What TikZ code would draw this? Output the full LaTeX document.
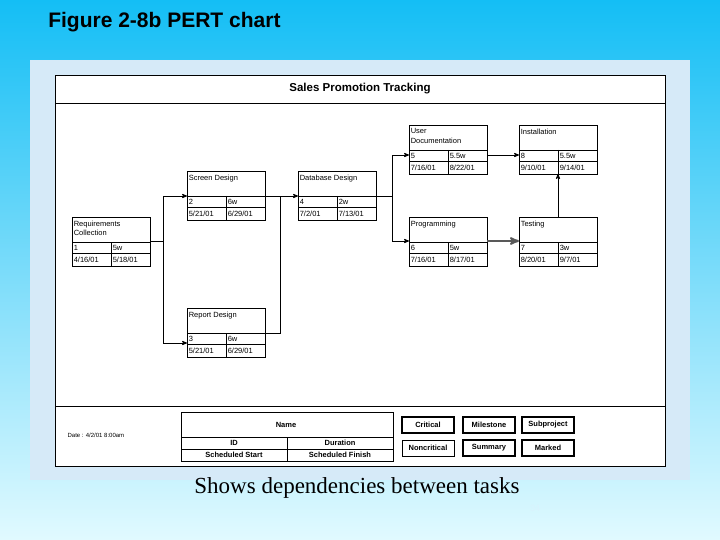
\documentclass[tikz,border=0pt]{standalone}
\usepackage{fontspec}
\setsansfont{Liberation Sans}
\setmainfont{Liberation Serif}
\usetikzlibrary{arrows,positioning,calc}
\definecolor{skytop}{RGB}{20,190,245}
\definecolor{skybot}{RGB}{225,250,255}
\definecolor{panel}{RGB}{214,234,248}
\newcommand{\task}[8]{%
  \node[taskbox, anchor=north west] (#1) at (#2,#3) {};
  \node[tasktxt, anchor=north west] at ($(#1.north west)+(0,2)$) {#4};
  \draw ($(#1.north west)+(0,25)$) -- ++(78,0);
  \draw ($(#1.north west)+(0,36)$) -- ++(78,0);
  \draw ($(#1.north west)+(39,25)$) -- ++(0,24);
  \node[tasktxt, anchor=west] at ($(#1.north west)+(0,30.5)$) {#5};
  \node[tasktxt, anchor=west] at ($(#1.north west)+(39,30.5)$) {#6};
  \node[tasktxt, anchor=west] at ($(#1.north west)+(0,42.5)$) {#7};
  \node[tasktxt, anchor=west] at ($(#1.north west)+(39,42.5)$) {#8};
}
\begin{document}
\begin{tikzpicture}[x=1pt,y=-1pt,>=stealth',semithick,
  taskbox/.style={draw, thick, minimum width=78pt, minimum height=49pt, inner sep=0pt, outer sep=0pt},
  tasktxt/.style={font=\sffamily\fontsize{7.5}{9.5}\selectfont, inner sep=1.5pt, align=left},
  link/.style={->, thick},
  legtxt/.style={font=\sffamily\bfseries\fontsize{7.5}{8.5}\selectfont},
  legbtn/.style={draw, line width=1.2pt, minimum width=52pt, minimum height=16pt, inner sep=0pt, legtxt}]
  \useasboundingbox (0,0) rectangle (720,540);
  \shade[top color=skytop, bottom color=skybot] (0,0) rectangle (720,540);
  \node[font=\sffamily\bfseries\fontsize{21}{23}\selectfont, anchor=west, inner sep=0pt] (ttl) at (48,22) {Figure 2-8b PERT chart};
  \fill[panel] (30,60) rectangle (690,480);
  \draw[fill=white, thick] (55,75) rectangle (665,466);
  \draw[thick] (55,103) -- (665,103);
  \draw[thick] (55,406) -- (665,406);
  \node[font=\sffamily\bfseries\fontsize{11.5}{13}\selectfont] (chart) at (360,89) {Sales Promotion Tracking};
  % tasks
  \task{req}{72}{217}{Requirements\\Collection}{1}{5w}{4/16/01}{5/18/01}
  \task{scr}{187}{171}{Screen Design}{2}{6w}{5/21/01}{6/29/01}
  \task{rep}{187}{308}{Report Design}{3}{6w}{5/21/01}{6/29/01}
  \task{db}{298}{171}{Database Design}{4}{2w}{7/2/01}{7/13/01}
  \task{udoc}{409}{125}{User\\Documentation}{5}{5.5w}{7/16/01}{8/22/01}
  \task{prog}{409}{217}{Programming}{6}{5w}{7/16/01}{8/17/01}
  \task{test}{519}{217}{Testing}{7}{3w}{8/20/01}{9/7/01}
  \task{inst}{519}{125}{Installation}{8}{5.5w}{9/10/01}{9/14/01}
  % links
  \draw[link] ($(req.north east)+(0,24)$) -| (163,196) -- ($(scr.north west)+(0,25)$);
  \draw[link] ($(req.north east)+(0,24)$) -| (163,343) -- ($(rep.north west)+(0,35)$);
  \draw[link] ($(scr.north east)+(0,25)$) -- ($(db.north west)+(0,25)$);
  \draw[thick] ($(rep.north east)+(0,25)$) -| (280,196);
  \draw[link] ($(db.north east)+(0,25)$) -| (392,155) -- ($(udoc.north west)+(0,30)$);
  \draw[link] ($(db.north east)+(0,25)$) -| (392,241) -- ($(prog.north west)+(0,24)$);
  \draw[link] ($(udoc.north east)+(0,30)$) -- ($(inst.north west)+(0,30)$);
  \draw[link, line width=2pt, draw=gray!70!black] ($(prog.north east)+(0,24)$) -- ($(test.north west)+(0,24)$);
  \draw[link] (test.north) -- (inst.south);
  % legend
  \node[font=\sffamily\fontsize{6}{7}\selectfont, anchor=west] (date) at (64,435) {Date : 4/2/01 8:00am};
  \node[draw, thick, minimum width=212pt, minimum height=49pt, inner sep=0pt, anchor=north west] (key) at (181,412) {};
  \node[legtxt] at (286,425) {Name};
  \draw (181,437) -- (393,437);
  \draw (181,449) -- (393,449);
  \draw (287,437) -- (287,461);
  \node[legtxt] at (234,443) {ID};
  \node[legtxt] at (340,443) {Duration};
  \node[legtxt] at (234,455) {Scheduled Start};
  \node[legtxt] at (340,455) {Scheduled Finish};
  \node[legbtn] (crit) at (428,425) {Critical};
  \node[legbtn, line width=2pt] (mile) at (489,425) {Milestone};
  \node[legbtn] (subp) at (548,425) {Subproject};
  \node[legbtn, line width=0.8pt] (noncrit) at (428,448) {Noncritical};
  \node[legbtn, line width=1.8pt] (summ) at (489,448) {Summary};
  \node[legbtn] (mark) at (548,448) {Marked};
  \node[font=\fontsize{23}{26}\selectfont] (cap) at (357,488) {Shows dependencies between tasks};
  \node[font=\sffamily\fontsize{9}{10}\selectfont, text=white!85!cyan] (pg) at (535,508) {34};
\end{tikzpicture}
\end{document}
